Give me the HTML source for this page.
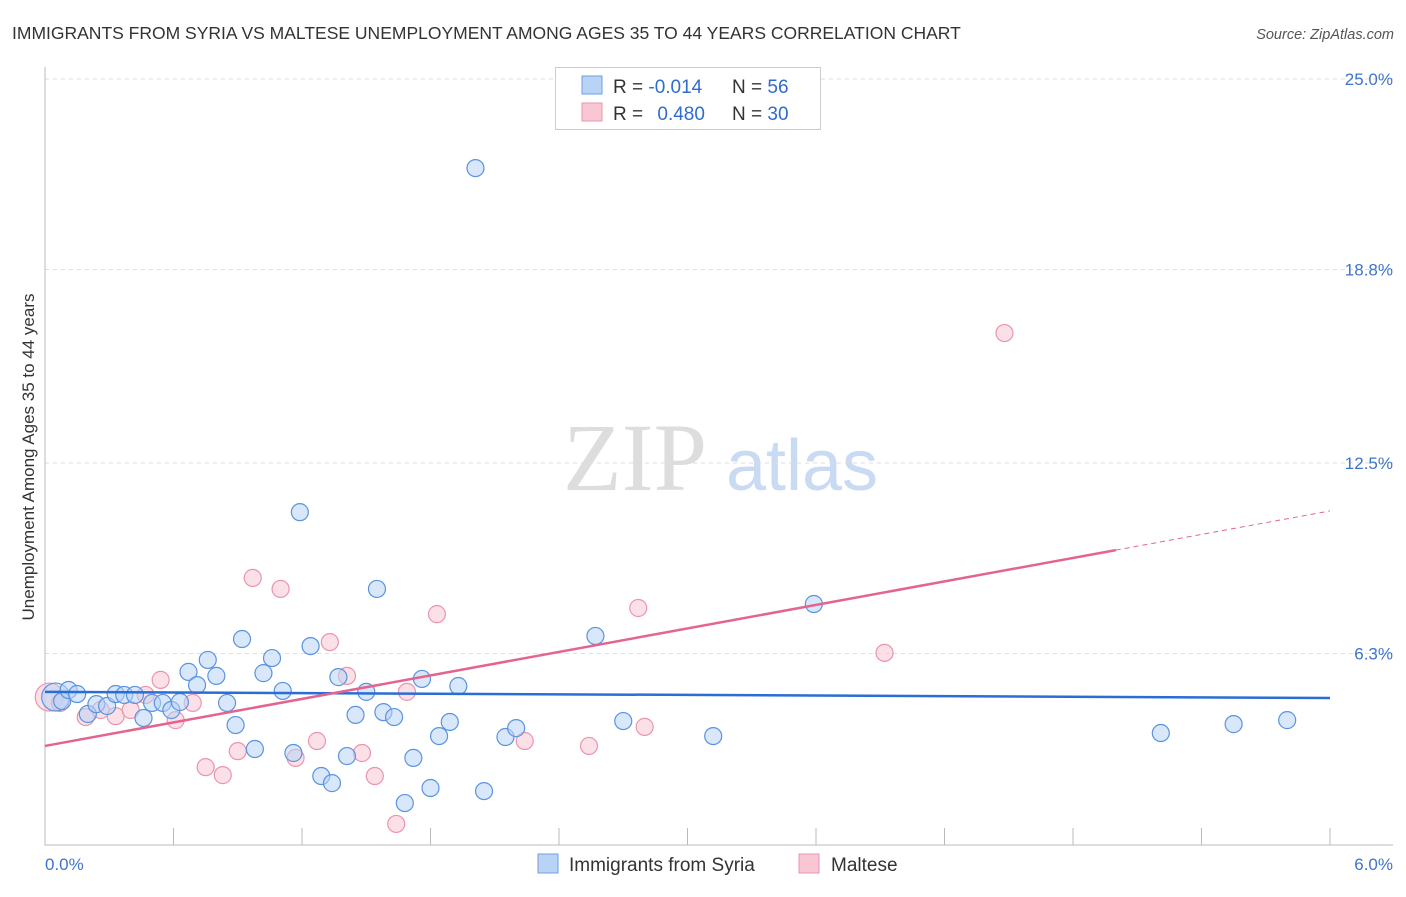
<!DOCTYPE html>
<html><head><meta charset="utf-8"><style>
body{margin:0;background:#fff;font-family:"Liberation Sans",sans-serif;}
svg text{font-family:"Liberation Sans",sans-serif;}
</style></head><body>
<svg id="c" width="1406" height="892" xmlns="http://www.w3.org/2000/svg">
<text x="12" y="39" font-size="17.5" fill="#333">IMMIGRANTS FROM SYRIA VS MALTESE UNEMPLOYMENT AMONG AGES 35 TO 44 YEARS CORRELATION CHART</text>
<text x="1394" y="39" font-size="14.5" fill="#555" font-style="italic" text-anchor="end">Source: ZipAtlas.com</text>
<text transform="translate(34,457) rotate(-90)" font-size="17" fill="#333" text-anchor="middle">Unemployment Among Ages 35 to 44 years</text>
<g>
<text x="635" y="490" font-size="96" fill="#ddd" font-family="Liberation Serif" text-anchor="middle" style="font-family:'Liberation Serif',serif">ZIP</text>
<text x="802" y="490" font-size="72" fill="#c9daf3" text-anchor="middle">atlas</text>
</g>
<g id="grid"></g><g id="axes"></g><g id="marks"></g>
<g>
<rect x="555.5" y="67.5" width="265" height="62" fill="#fff" stroke="#ccc"/>
<rect x="582" y="76" width="20" height="18" fill="#b8d3f5" stroke="#6f9fe0"/>
<rect x="582" y="103" width="20" height="18" fill="#f9c6d4" stroke="#ea95ae"/>
<text x="613" y="93" font-size="19" fill="#333">R = <tspan fill="#2f6ccf">-0.014</tspan></text>
<text x="732" y="93" font-size="19" fill="#333">N = <tspan fill="#2f6ccf">56</tspan></text>
<text x="613" y="120" font-size="19" fill="#333">R = <tspan fill="#2f6ccf" dx="9">0.480</tspan></text>
<text x="732" y="120" font-size="19" fill="#333">N = <tspan fill="#2f6ccf">30</tspan></text>
</g>
<g>
<rect x="538" y="854" width="20" height="19" fill="#b8d3f5" stroke="#6f9fe0"/>
<text x="569" y="871" font-size="19" fill="#333">Immigrants from Syria</text>
<rect x="799" y="854" width="20" height="19" fill="#f9c6d4" stroke="#ea95ae"/>
<text x="831" y="871" font-size="19" fill="#333">Maltese</text>
</g>
</svg>
<script>
const syriaX=[0.05,0.08,0.11,0.15,0.20,0.24,0.29,0.33,0.37,0.42,0.46,0.50,0.55,0.59,0.63,0.67,0.71,0.76,0.80,0.85,0.89,0.92,0.98,1.02,1.06,1.11,1.16,1.19,1.24,1.29,1.34,1.37,1.41,1.45,1.50,1.55,1.58,1.63,1.68,1.72,1.76,1.80,1.84,1.89,1.93,2.01,2.05,2.15,2.20,2.57,2.70,3.12,3.59,5.21,5.55,5.80];
const syriaY=[4.88,4.75,5.11,4.98,4.33,4.65,4.59,4.98,4.95,4.95,4.20,4.69,4.69,4.46,4.72,5.70,5.27,6.09,5.57,4.69,3.97,6.77,3.19,5.66,6.15,5.08,3.06,10.90,6.54,2.31,2.08,5.53,2.96,4.30,5.05,8.40,4.39,4.23,1.43,2.90,5.47,1.92,3.61,4.07,5.24,22.10,1.82,3.58,3.87,6.87,4.10,3.61,7.91,3.71,4.00,4.13];
const malteseX=[0.02,0.07,0.19,0.26,0.33,0.40,0.47,0.54,0.61,0.69,0.75,0.83,0.90,0.97,1.10,1.17,1.27,1.33,1.41,1.48,1.54,1.64,1.69,1.83,2.24,2.54,2.77,2.80,3.92,4.48];
const malteseY=[4.88,4.69,4.23,4.46,4.26,4.46,4.95,5.44,4.13,4.69,2.60,2.34,3.12,8.76,8.40,2.90,3.45,6.67,5.57,3.06,2.31,0.75,5.05,7.58,3.45,3.29,7.78,3.91,6.32,16.73];
const syriaTrend=[5.05,4.85];
const malteseTrend=[3.29,10.94];
const malteseSolidEnd=5.0;
const yTicks=[6.3,12.5,18.8,25.0];
const yTickLabels=["6.3%","12.5%","18.8%","25.0%"];
const xTickLabels=["0.0%","6.0%"];
const NS="http://www.w3.org/2000/svg";
const X=v=>45+v/6*1285;
const Y=v=>847-v/6.25*192;
function mk(t,a,p){const e=document.createElementNS(NS,t);for(const k in a)e.setAttribute(k,a[k]);p.appendChild(e);return e;}
const grid=document.getElementById('grid'),axes=document.getElementById('axes'),marks=document.getElementById('marks');
yTicks.forEach((t,i)=>{
 const l=mk('line',{x1:45,x2:1393,y1:Y(t),y2:Y(t),stroke:'#ddd','stroke-dasharray':'4,4'},grid);
 
 
 const tx=mk('text',{x:1393,y:Y(t)+6,'font-size':17,fill:'#3f74cc','text-anchor':'end'},axes);
 tx.textContent=yTickLabels[i];
 
 
});
const ax=mk('path',{d:'M45,67V845H1393',stroke:'#bbb',fill:'none'},axes);


for(let i=0;i<=10;i++){
 const tk=mk('line',{x1:X(i*0.6),x2:X(i*0.6),y1:828,y2:845,stroke:'#bbb'},axes);
 
 
}
xTickLabels.forEach((s,i)=>{
 const tx=mk('text',{x:i?1393:45,y:870,'font-size':17,fill:'#3f74cc','text-anchor':i?'end':'start'},axes);
 tx.textContent=s;
 
 
});
function dots(xs,ys,fill,stroke,name){
 xs.forEach((x,i)=>{
  const c=mk('circle',{cx:X(x),cy:Y(ys[i]),r:i==0?14:8.5,fill:fill,'fill-opacity':0.55,stroke:stroke,'stroke-width':1.2},marks);
  
  
 });
}
dots(malteseX,malteseY,'#f9c6d4','#ea95ae','maltese-point');
dots(syriaX,syriaY,'#b8d3f5','#5b93e0','syria-point');
const bl=mk('line',{x1:X(0),y1:Y(syriaTrend[0]),x2:X(6),y2:Y(syriaTrend[1]),stroke:'#2a6dd4','stroke-width':2.5},marks);


const my=x=>malteseTrend[0]+(malteseTrend[1]-malteseTrend[0])*x/6;
const pl=mk('line',{x1:X(0),y1:Y(my(0)),x2:X(malteseSolidEnd),y2:Y(my(malteseSolidEnd)),stroke:'#e4648f','stroke-width':2.5},marks);


const pd=mk('line',{x1:X(malteseSolidEnd),y1:Y(my(malteseSolidEnd)),x2:X(6),y2:Y(my(6)),stroke:'#e4648f','stroke-width':1,'stroke-dasharray':'5,4'},marks);


</script>
</body></html>
